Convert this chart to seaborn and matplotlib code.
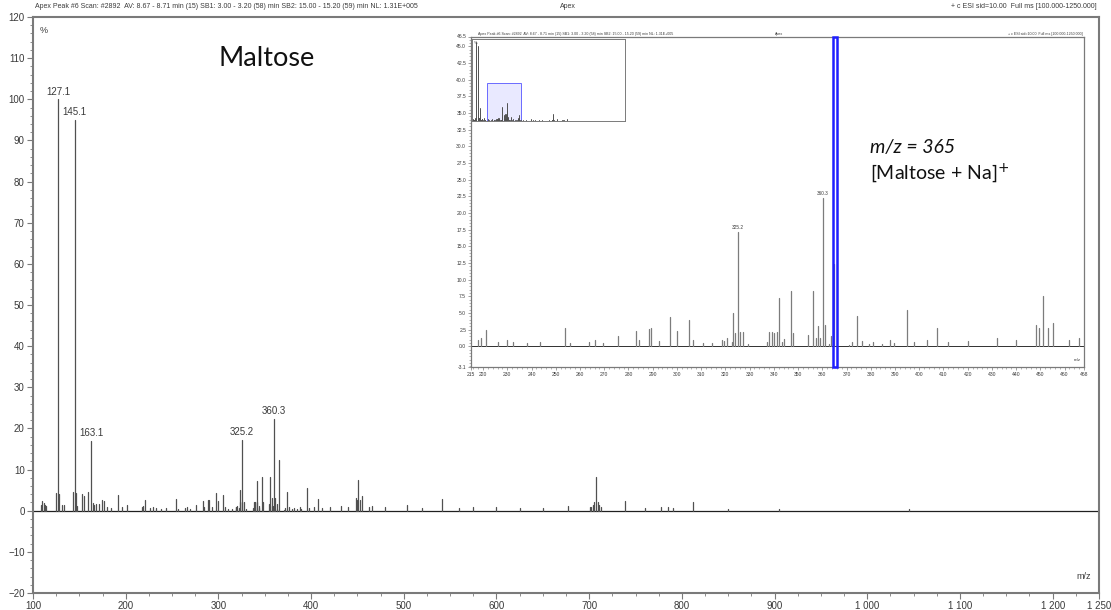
import numpy as np
import pandas as pd
import matplotlib
matplotlib.use("Agg")
import matplotlib.pyplot as plt
import seaborn as sns
from matplotlib.patches import Rectangle
from matplotlib.ticker import FixedLocator, MultipleLocator

# ---------------- spectrum data (m/z, relative abundance %) ----------------
mz = [108.5, 110.0, 111.5, 113.0, 114.5, 125.0, 127.1, 128.1, 131.0, 133.0,
      143.0, 145.1, 146.1, 147.0, 153.0, 155.0, 159.5, 163.1, 164.5, 166.0,
      168.0, 171.0, 174.5, 177.0, 180.0, 184.0, 191.5, 196.0, 201.0,
      218.0, 219.0, 221.0, 226.0, 229.9, 232.3, 238.0, 243.5, 253.9, 256.0,
      263.8, 266.2, 269.5, 275.7, 283.2, 284.4, 288.5, 289.4, 292.7, 297.2,
      300.1, 305.1, 306.7, 310.8,
      314.5, 318.6, 319.5, 320.5, 322.7, 323.1, 323.8, 325.2, 326.0, 327.1,
      329.3, 337.0, 338.1, 339.2, 340.0, 341.3, 342.1, 343.4, 344.3, 346.9,
      347.8, 354.2, 356.2, 357.4, 358.1, 359.0, 360.3, 361.0, 362.8, 363.5,
      365.0, 371.2, 372.3, 374.2, 376.4, 379.2, 381.1, 384.7, 388.0, 389.4,
      395.1, 398.0, 403.0, 407.4, 412.0, 420.0, 432.0, 440.0, 448.0, 449.5,
      451.0, 453.0, 455.0, 462.0, 466.0, 480.0, 503.0, 520.0, 541.0, 560.0,
      575.0, 600.0, 625.0, 650.0, 677.0, 700.5, 702.5, 704.0, 705.5, 707.2,
      709.0, 711.0, 713.0, 739.0, 760.0, 777.0, 785.0, 790.0, 812.0, 850.0,
      905.0, 1045.0]
rel_int = [1.3, 2.4, 1.8, 1.5, 1.2, 4.4, 100.0, 4.0, 1.4, 1.4,
           4.5, 95.0, 4.4, 1.2, 4.0, 3.6, 4.5, 16.9, 1.8, 1.5,
           1.6, 1.6, 2.6, 2.3, 0.8, 0.6, 3.7, 0.8, 1.4,
           1.0, 1.2, 2.5, 0.6, 1.0, 0.6, 0.5, 0.7, 2.8, 0.5,
           0.7, 1.0, 0.5, 1.5, 2.3, 1.0, 2.6, 2.7, 0.8, 4.4,
           2.3, 3.9, 1.0, 0.5,
           0.5, 1.0, 0.8, 1.2, 0.6, 5.0, 2.0, 17.2, 2.2, 2.1,
           0.3, 0.6, 2.2, 2.1, 2.0, 2.2, 7.3, 0.7, 1.1, 8.25,
           2.0, 1.7, 8.25, 1.2, 3.0, 1.2, 22.3, 3.2, 0.3, 1.6,
           12.4, 0.2, 0.6, 4.6, 0.8, 0.3, 0.7, 0.3, 0.9, 0.5,
           5.4, 0.6, 1.0, 2.8, 0.6, 0.8, 1.2, 0.9, 3.2, 2.7,
           7.5, 2.7, 3.5, 1.0, 1.2, 0.8, 1.5, 0.6, 2.8, 0.7,
           0.9, 0.8, 0.7, 0.6, 1.2, 0.8, 1.0, 1.5, 2.0, 8.3,
           2.2, 1.5, 1.0, 2.4, 0.6, 0.8, 1.0, 0.7, 2.2, 0.3,
           0.3, 0.3]

labeled_mz = [127.1, 145.1, 163.1, 325.2, 360.3]
inset_labeled_mz = [325.2, 360.3]
highlight_mz = 365.0

x_ticks = [100, 200, 300, 400, 500, 600, 700, 800, 900, 1000, 1100, 1200, 1250]
x_tick_labels = ["100", "200", "300", "400", "500", "600", "700", "800", "900",
                 "1 000", "1 100", "1 200", "1 250"]
y_ticks = [-20, -10, 0, 10, 20, 30, 40, 50, 60, 70, 80, 90, 100, 110, 120]

inset_x_ticks = [215, 220, 230, 240, 250, 260, 270, 280, 290, 300, 310, 320, 330,
                 340, 350, 360, 370, 380, 390, 400, 410, 420, 430, 440, 450, 460, 468]
inset_y_ticks = [-3.1, 0.0, 2.5, 5.0, 7.5, 10.0, 12.5, 15.0, 17.5, 20.0, 22.5, 25.0,
                 27.5, 30.0, 32.5, 35.0, 37.5, 40.0, 42.5, 45.0, 46.5]

header_left = ("Apex Peak #6 Scan: #2892  AV: 8.67 - 8.71 min (15) SB1: 3.00 - 3.20 (58) min "
               "SB2: 15.00 - 15.20 (59) min NL: 1.31E+005")
header_mid = "Apex"
header_right = "+ c ESI sid=10.00  Full ms [100.000-1250.000]"
title = "Maltose"
ion_line1 = "m/z = 365"
ion_line2 = "[Maltose + Na]$^{+}$"

# ---------------- style ----------------
sns.set_theme(style="ticks")
plt.rcParams["font.family"] = ["Liberation Sans", "DejaVu Sans"]
TXT = "#3a3a3a"
FRAME = "#7a7a7a"
STICK = "#505050"
STICK_ZOOM = "#7c7c7c"

W, H = 1111, 610
fig = plt.figure(figsize=(W / 100, H / 100), dpi=100)
fig.patch.set_facecolor("white")


def box(left, top, right, bottom):
    return [left / W, 1 - bottom / H, (right - left) / W, (bottom - top) / H]


peaks = pd.DataFrame({"mz": mz, "intensity": rel_int})
peaks["peak"] = np.arange(len(peaks))
# every peak becomes a vertical stick: one point on the baseline, one at its height
sticks = pd.concat([peaks.assign(y=0.0), peaks.assign(y=peaks["intensity"])],
                   ignore_index=True)


def draw_sticks(ax, lw, color=STICK):
    sns.lineplot(data=sticks, x="mz", y="y", units="peak", estimator=None,
                 color=color, linewidth=lw, ax=ax, legend=False)
    ax.set_xlabel("")
    ax.set_ylabel("")


def frame(ax, lw):
    for s in ax.spines.values():
        s.set_visible(True)
        s.set_color(FRAME)
        s.set_linewidth(lw)


# ---------------- main spectrum ----------------
ax = fig.add_axes(box(33, 17, 1099, 593))
draw_sticks(ax, 0.9)
ax.axhline(0, color="#202020", lw=0.9, zorder=1)
ax.set_xlim(100, 1250)
ax.set_ylim(-20, 120)
frame(ax, 1.5)
ax.xaxis.set_major_locator(FixedLocator(x_ticks))
ax.set_xticklabels(x_tick_labels)
ax.xaxis.set_minor_locator(MultipleLocator(25))
ax.yaxis.set_major_locator(FixedLocator(y_ticks))
ax.yaxis.set_minor_locator(MultipleLocator(2))
ax.tick_params(which="major", direction="out", length=4, width=0.8, color=FRAME,
               labelsize=7, labelcolor=TXT, pad=2)
ax.tick_params(which="minor", direction="out", length=2, width=0.6, color=FRAME)
ax.text(0.006, 0.985, "%", transform=ax.transAxes, fontsize=6.5, color=TXT,
        ha="left", va="top")
ax.text(0.992, 0.02, "m/z", transform=ax.transAxes, fontsize=6.5, color=TXT,
        ha="right", va="bottom")
for m in labeled_mz:
    h = peaks.loc[peaks["mz"] == m, "intensity"].iloc[0]
    ax.annotate(f"{m:.1f}", (m, h), xytext=(0, 2), textcoords="offset points",
                ha="center", va="bottom", fontsize=7, color=TXT)

fig.text(35 / W, 1 - 6 / H, header_left, fontsize=5, color=TXT, ha="left", va="center")
fig.text(560 / W, 1 - 6 / H, header_mid, fontsize=5, color=TXT, ha="left", va="center")
fig.text(1097 / W, 1 - 6 / H, header_right, fontsize=5, color=TXT, ha="right", va="center")

fig.text(267 / W, 1 - 58 / H, title, fontsize=19.5, color="#111111",
         family=["Lato", "DejaVu Sans"], ha="center", va="center")

# ---------------- zoomed window 215-468 ----------------
axi = fig.add_axes(box(471, 36.5, 1084, 367))
axi.set_facecolor("white")
draw_sticks(axi, 0.9, STICK_ZOOM)
axi.axhline(0, color="#303030", lw=0.7, zorder=1)
axi.set_xlim(215, 468)
axi.set_ylim(-3.1, 46.5)
frame(axi, 0.9)
axi.xaxis.set_major_locator(FixedLocator(inset_x_ticks))
axi.xaxis.set_minor_locator(MultipleLocator(2))
axi.yaxis.set_major_locator(FixedLocator(inset_y_ticks))
axi.set_yticklabels([f"{v:.1f}" for v in inset_y_ticks])
axi.yaxis.set_minor_locator(MultipleLocator(0.5))
axi.tick_params(which="major", direction="out", length=2.5, width=0.5, color=FRAME,
                labelsize=3.6, labelcolor=TXT, pad=1)
axi.tick_params(which="minor", direction="out", length=1.2, width=0.4, color=FRAME)
axi.text(0.995, 0.015, "m/z", transform=axi.transAxes, fontsize=3.2, color=TXT,
         ha="right", va="bottom")
for m in inset_labeled_mz:
    h = peaks.loc[peaks["mz"] == m, "intensity"].iloc[0]
    axi.annotate(f"{m:.1f}", (m, h), xytext=(0, 1.5), textcoords="offset points",
                 ha="center", va="bottom", fontsize=3.4, color=TXT)
axi.add_patch(Rectangle((highlight_mz - 0.7, -3.1), 1.6, 49.6, fill=False,
                        edgecolor="#1f1fff", lw=1.8, clip_on=False, zorder=5))

fig.text(478 / W, 1 - 33.5 / H, header_left, fontsize=2.6, color=TXT, ha="left", va="center")
fig.text(775 / W, 1 - 33.5 / H, header_mid, fontsize=2.6, color=TXT, ha="left", va="center")
fig.text(1083 / W, 1 - 33.5 / H, header_right, fontsize=2.6, color=TXT, ha="right", va="center")

fig.text(870 / W, 1 - 148 / H, ion_line1, fontsize=14, style="italic", color="#111111",
         family=["Lato", "DejaVu Sans"], ha="left", va="center")
fig.text(870 / W, 1 - 173 / H, ion_line2, fontsize=14, color="#111111",
         family=["Lato", "DejaVu Sans"], ha="left", va="center")

# ---------------- full-range overview inside the zoomed window ----------------
axo = fig.add_axes(box(472, 39, 625, 121))
axo.set_facecolor("white")
draw_sticks(axo, 0.7)
axo.set_xlim(100, 1250)
axo.set_ylim(0, 104)
frame(axo, 0.7)
axo.set_xticks([])
axo.set_yticks([])
axo.add_patch(Rectangle((215, 0), 253, 48, facecolor=(0.86, 0.86, 1.0, 0.6),
                        edgecolor="#6a6aff", lw=0.7, zorder=0))
axo.text(0.015, 0.97, "%", transform=axo.transAxes, fontsize=3, color=TXT,
         ha="left", va="top")

fig.savefig("out.png", dpi=100, facecolor="white")
